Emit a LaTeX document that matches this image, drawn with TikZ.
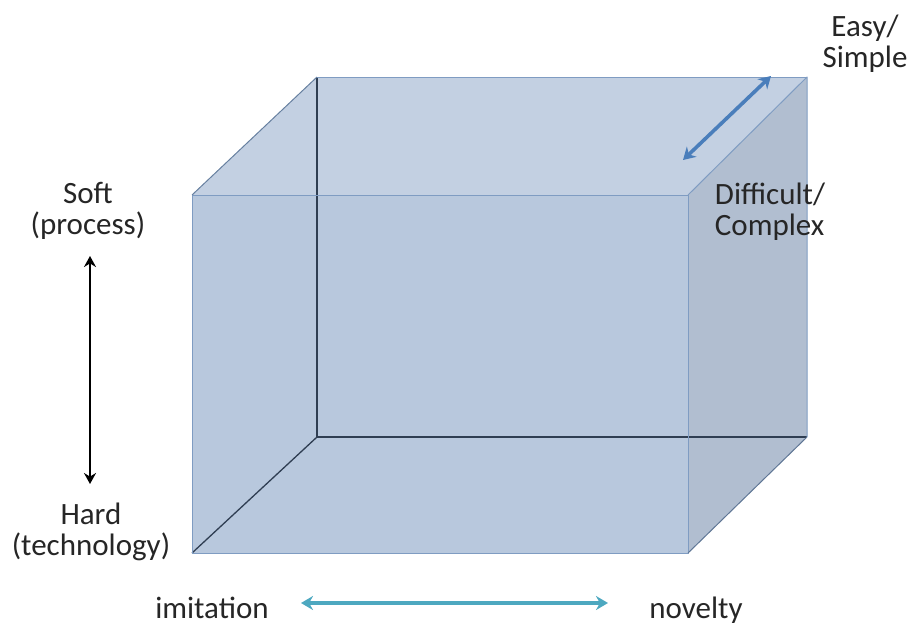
\documentclass[tikz,border=0pt]{standalone}
\usepackage{fontspec}
\setmainfont{Carlito}
\usepackage{tikz}
\usetikzlibrary{arrows.meta}
\definecolor{BoxTop}  {HTML}{C3D0E2}
\definecolor{BoxFront}{HTML}{B8C8DD}
\definecolor{BoxSide} {HTML}{B1BED0}
\definecolor{BoxEdge} {HTML}{7F9CC2}
\definecolor{BoxDark} {HTML}{2F3E52}
\definecolor{LblText} {HTML}{262626}
\definecolor{ArrBlue} {HTML}{4A7EBB}
\definecolor{ArrTeal} {HTML}{4DA8C0}

\begin{document}
\begin{tikzpicture}[x=1pt,y=-1pt,
    edge/.style={draw=BoxEdge,line width=1pt,line join=round},
    hid/.style={draw=BoxDark,line width=1.3pt},
    dbl/.style={{Stealth[length=12pt,width=14pt]}-{Stealth[length=12pt,width=14pt]},line width=3.6pt},
    lbl/.style={font=\fontsize{31}{31}\selectfont,text=LblText,inner sep=0pt}
  ]
    \useasboundingbox (0,0) rectangle (913,625);
    \coordinate (F1) at (192,195);
    \coordinate (F2) at (688,195);
    \coordinate (F3) at (688,553);
    \coordinate (F4) at (192,553);
    \coordinate (B1) at (317,77);
    \coordinate (B2) at (807,77);
    \coordinate (B3) at (807,437);
    \coordinate (B4) at (317,437);
    \fill[BoxTop](F1)--(B1)--(B2)--(F2)--cycle;
    \fill[BoxSide](F2)--(B2)--(B3)--(F3)--cycle;
    \fill[BoxFront](F1)--(F2)--(F3)--(F4)--cycle;
    \draw[hid](B1)--(B4)--(B3);
    \draw[hid](B4)--(F4);
    \draw[edge](F1)--(F2)--(F3)--(F4)--cycle;
    \draw[edge](F2)--(B2)--(B3);
    \draw[edge](B1)--(B2);
    \draw[edge,draw=BoxEdge!70!BoxDark](F1)--(B1);
    \draw[edge,draw=BoxEdge!60!BoxDark](B3)--(F3);
    \node[lbl,align=center](easy) at (865,44)  {Easy/\\Simple};
    \node[lbl,align=left](diff) at (770,212)   {Difficult/\\Complex};
    \node[lbl,align=center](soft) at (88,211)  {Soft\\(process)};
    \node[lbl,align=center](hard) at (91,532)  {Hard\\(technology)};
    \node[lbl,anchor=base](imit) at (212,618)  {imitation};
    \node[lbl,anchor=base](nov) at (696,618)   {novelty};
    \coordinate (dA) at (683,160);
    \coordinate (dB) at (771,76);
    \coordinate (sA) at (90,256);
    \coordinate (sB) at (90,484);
    \coordinate (nA) at (301,603);
    \coordinate (nB) at (608,603);
    \draw[dbl,ArrBlue](dA)--(dB);
    \draw[dbl,black,line width=2.6pt,{Stealth[length=11pt,width=12pt]}-{Stealth[length=11pt,width=12pt]}](sA)--(sB);
    \draw[dbl,ArrTeal](nA)--(nB);
  \end{tikzpicture}
\end{document}
